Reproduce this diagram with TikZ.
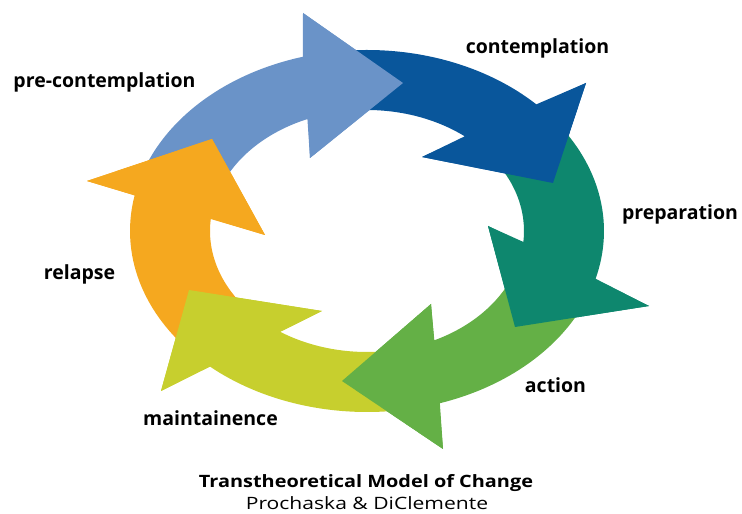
\documentclass[tikz,border=0pt]{standalone}
\usepackage{fontspec}
\setmainfont{Open Sans}
\newfontfamily\titlefont[FakeStretch=1.17]{Open Sans}
\newfontfamily\subtitlefont[FakeStretch=1.24]{Open Sans}
\definecolor{precol}{HTML}{6A93C8}
\definecolor{concol}{HTML}{09569B}
\definecolor{prepcol}{HTML}{0E876E}
\definecolor{actcol}{HTML}{64B046}
\definecolor{maintcol}{HTML}{C7CF2E}
\definecolor{relcol}{HTML}{F5A81F}
\tikzset{
    stage/.style={anchor=base, font=\bfseries\fontsize{19.5}{19.5}\selectfont},
}
\begin{document}
\begin{tikzpicture}[x=1pt,y=1pt]
        \useasboundingbox (0,0) rectangle (742,514);
        \coordinate (c) at (367,283);
        % arrow heads: back outer corner, tip, back inner corner
        \coordinate (pre-o) at (303,501);  \coordinate (pre-t) at (403,431);  \coordinate (pre-i) at (310,356);
        \coordinate (con-o) at (586,431);  \coordinate (con-t) at (553,331);  \coordinate (con-i) at (422,357);
        \coordinate (prep-o) at (649,208); \coordinate (prep-t) at (515,187); \coordinate (prep-i) at (488,288);
        \coordinate (act-o) at (443,65);   \coordinate (act-t) at (342,133);  \coordinate (act-i) at (431,210);
        \coordinate (maint-o) at (161,123); \coordinate (maint-t) at (189,224); \coordinate (maint-i) at (322,203);
        \coordinate (rel-o) at (87,333);   \coordinate (rel-t) at (212,375);  \coordinate (rel-i) at (265,279);
        % bodies
        \foreach \n/\ts/\te/\tj in {pre/165/105.7/112.3, con/95/44.4/51.5, prep/40/-15.3/-5.2,
                                    act/-25/-72.1/-64.6, maint/-78/-131.6/-123.6, rel/220/168.6/174.3}
            \fill [\n col] ([shift={(c)}]\ts:237pt and 181pt)
                arc [start angle=\ts, end angle=\te, x radius=237pt, y radius=181pt]
                -- (\n-o) -- (\n-t) -- (\n-i) -- ([shift={(c)}]\tj:157pt and 121pt)
                arc [start angle=\tj, end angle=\ts, x radius=157pt, y radius=121pt] -- cycle;
        % heads on top
        \foreach \n in {pre, con, prep, act, maint, rel}
            \fill [\n col] (\n-o) -- (\n-t) -- (\n-i) -- cycle;
        \node [stage] (precon) at (104.5,426) {pre-contemplation};
        \node [stage] (contemp) at (537.5,460) {contemplation};
        \node [stage] (prep) at (680,294) {preparation};
        \node [stage] (act) at (555.5,121) {action};
        \node [stage] (maint) at (210.5,88) {maintainence};
        \node [stage] (rel) at (79.5,234) {relapse};
        \node [anchor=base, font=\titlefont\bfseries\fontsize{17}{17}\selectfont] (title) at (366,26.7) {Transtheoretical Model of Change};
        \node [anchor=base, font=\subtitlefont\fontsize{17}{17}\selectfont] (authors) at (367,4) {Prochaska \& DiClemente};
    \end{tikzpicture}
\end{document}
